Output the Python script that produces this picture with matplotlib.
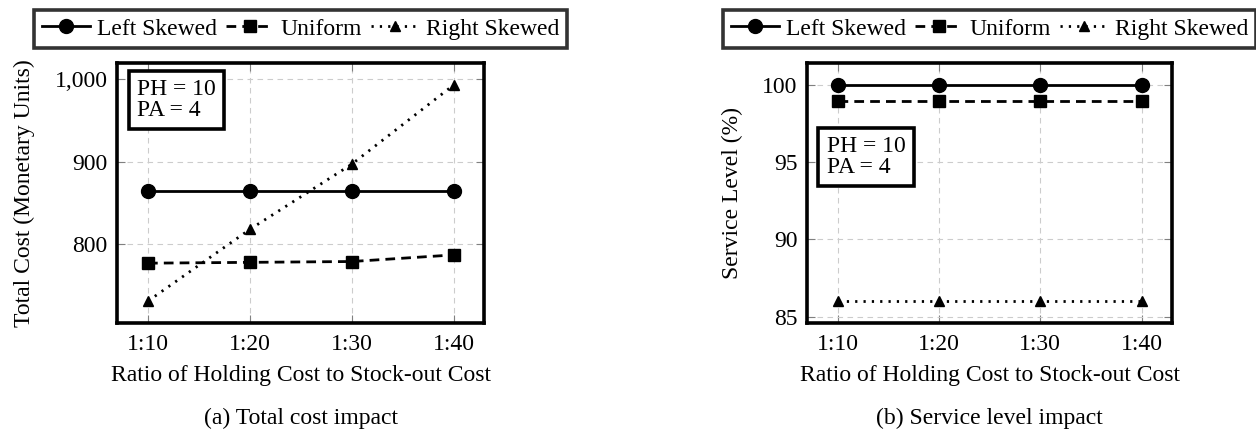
import numpy as np
import matplotlib
matplotlib.use("Agg")
import matplotlib.pyplot as plt
from matplotlib.ticker import FuncFormatter

# data
ratios = ["1:10", "1:20", "1:30", "1:40"]
series_names = ["Left Skewed", "Uniform", "Right Skewed"]

cost_left = [865, 865, 865, 865]
cost_uniform = [777, 778, 779, 787]
cost_right = [731, 818, 897, 993]

service_left = [100, 100, 100, 100]
service_uniform = [99, 99, 99, 99]
service_right = [86, 86, 86, 86]

plt.rcParams['font.family'] = ['Liberation Serif', 'DejaVu Serif']
plt.rcParams['font.size'] = 17

styles = [
    dict(linestyle='-', marker='o', markersize=10, linewidth=2.0),
    dict(linestyle=(0, (3.5, 2.2)), marker='s', markersize=8, linewidth=2.0),
    dict(linestyle=(0, (0.8, 2.2)), marker='^', markersize=7, linewidth=2.0),
]


def enlarged(vals, frac=0.1):
    lo, hi = min(vals), max(vals)
    pad = (hi - lo) * frac
    return lo - pad, hi + pad


def draw_panel(ax, series, ylabel, box_y, yticks, fmt):
    x = np.arange(len(ratios))
    for vals, name, st in zip(series, series_names, styles):
        ax.plot(x, vals, color='black', label=name, **st)
    ax.set_xticks(x)
    ax.set_xticklabels(ratios)
    ax.set_xlim(-0.3, 3.3)
    allv = [v for s in series for v in s]
    ax.set_ylim(*enlarged(allv))
    ax.set_yticks(yticks)
    ax.yaxis.set_major_formatter(FuncFormatter(fmt))
    ax.grid(True, color='#cccccc', linestyle=(0, (5, 4)), linewidth=0.8)
    ax.set_axisbelow(True)
    ax.tick_params(direction='in', top=True, right=True, length=6,
                   color='#808080', width=0.8, pad=7)
    ax.tick_params(axis='x', pad=8)
    for sp in ax.spines.values():
        sp.set_linewidth(2.6)
    ax.set_xlabel("Ratio of Holding Cost to Stock-out Cost", labelpad=7)
    ax.set_ylabel(ylabel, labelpad=14)
    ax.text(0.053, box_y, "PH = 10\nPA = 4", transform=ax.transAxes,
            ha='left', va='top', linespacing=1.0,
            bbox=dict(boxstyle='square,pad=0.35', facecolor='white',
                      edgecolor='black', linewidth=2.6))
    leg = ax.legend(loc='lower center', bbox_to_anchor=(0.5, 1.06), ncol=3,
                    frameon=True, fancybox=False, edgecolor='black',
                    handlelength=2.0, handletextpad=0.3, columnspacing=0.4,
                    borderpad=0.35, borderaxespad=0)
    leg.get_frame().set_linewidth(2.6)


fig = plt.figure(figsize=(12.56, 4.4), dpi=100)
ax1 = fig.add_axes([0.0935, 0.2666, 0.2919, 0.5891])
ax2 = fig.add_axes([0.6428, 0.2666, 0.2903, 0.5891])

draw_panel(ax1, [cost_left, cost_uniform, cost_right],
           "Total Cost (Monetary Units)", 0.94, [800, 900, 1000],
           lambda v, p: "{:,.0f}".format(v))
draw_panel(ax2, [service_left, service_uniform, service_right],
           "Service Level (%)", 0.72, [85, 90, 95, 100],
           lambda v, p: "{:.0f}".format(v))

fig.text(0.2396, 0.05, "(a) Total cost impact", ha='center', va='center', fontsize=17)
fig.text(0.7880, 0.05, "(b) Service level impact", ha='center', va='center', fontsize=17)

fig.savefig("out.png", dpi=100)
